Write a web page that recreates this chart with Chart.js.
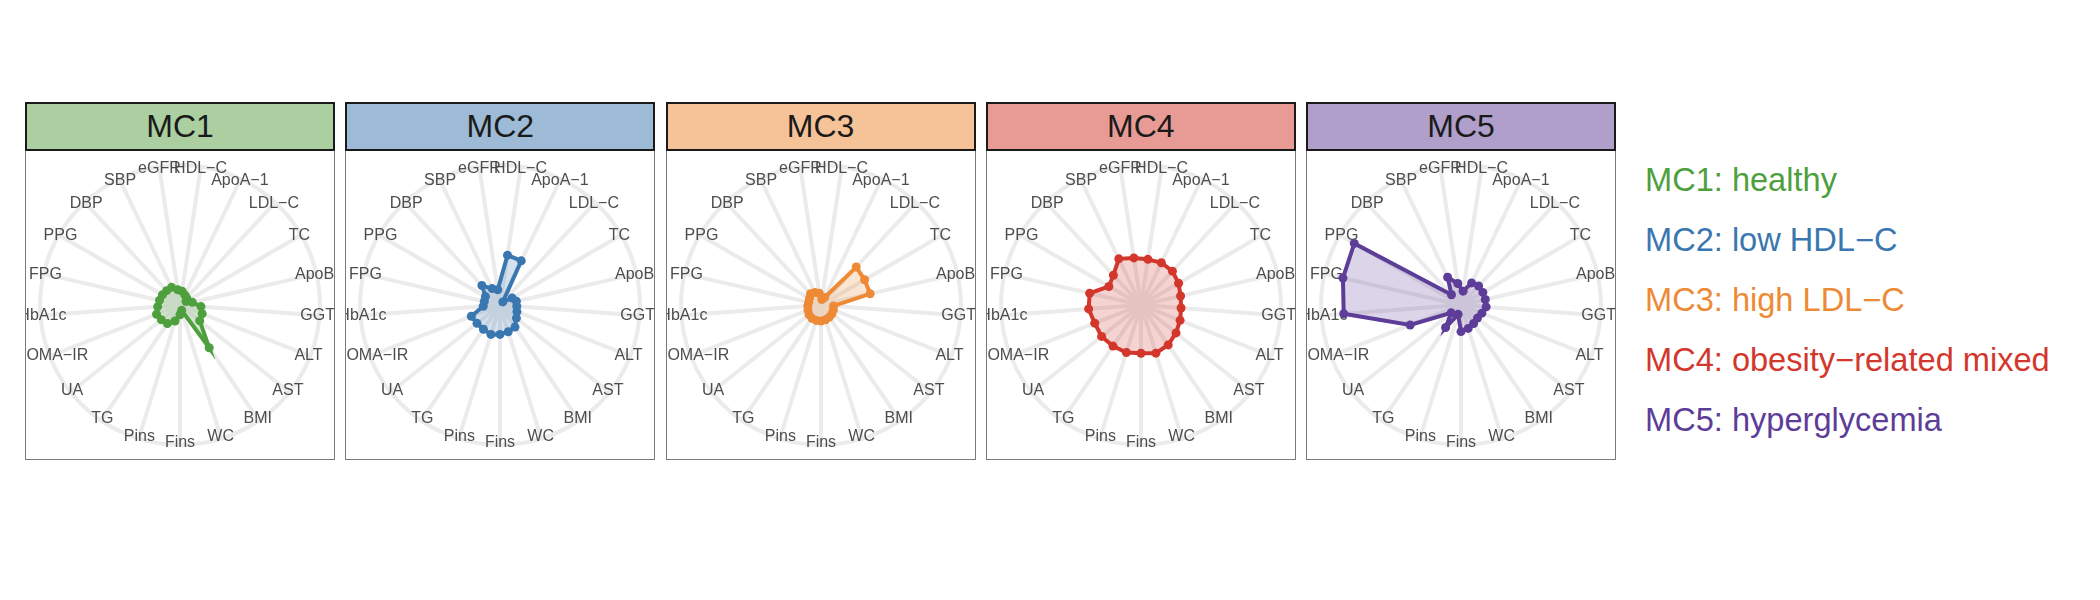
<!DOCTYPE html>
<html>
<head>
<meta charset="utf-8">
<title>Metabolic clusters radar</title>
<script src="https://cdn.jsdelivr.net/npm/chart.js@4.4.1/dist/chart.umd.min.js"></script>
<style>
    html, body { margin: 0; padding: 0; background: #fff; }
    body { width: 2100px; height: 600px; position: relative; overflow: hidden; font-family: "Liberation Sans", Arial, sans-serif; }
    .strip { position: absolute; top: 102px; height: 49px; width: 310px; box-sizing: border-box; border: 2px solid #1a1a1a; text-align: center; font-size: 32px; line-height: 45px; color: #1a1a1a; z-index: 2; }
    .panel { position: absolute; top: 150px; width: 310px; height: 310px; box-sizing: border-box; border: 1px solid #7a7a7a; overflow: hidden; }
    .panel canvas { position: absolute; left: -1px; top: -1px; }
    .legend { position: absolute; left: 1645px; font-size: 32.6px; line-height: 32.6px; white-space: nowrap; }
</style>
</head>
<body>
<div id="root"></div>
<script>
// Variables, clockwise from the top
const variables = ['HDL\u2212C', 'ApoA\u22121', 'LDL\u2212C', 'TC', 'ApoB', 'GGT', 'ALT', 'AST', 'BMI', 'WC',
    'Fins', 'Pins', 'TG', 'UA', 'HOMA\u2212IR', 'HbA1c', 'FPG', 'PPG', 'DBP', 'SBP', 'eGFR'];

// Cluster profiles (scaled 0..1)
const mc1 = [0.10, 0.08, 0.07, 0.05, 0.09, 0.15, 0.17, 0.18, 0.37, 0.04, 0.07, 0.12, 0.16, 0.17, 0.18, 0.16, 0.15, 0.145, 0.14, 0.14, 0.11];
const mc2 = [0.36, 0.35, 0.03, 0.10, 0.12, 0.12, 0.13, 0.15, 0.19, 0.20, 0.21, 0.22, 0.21, 0.21, 0.22, 0.12, 0.115, 0.12, 0.19, 0.13, 0.11];
const mc3 = [0.04, 0.06, 0.37, 0.36, 0.36, 0.09, 0.095, 0.10, 0.105, 0.11, 0.114, 0.115, 0.115, 0.11, 0.10, 0.095, 0.09, 0.095, 0.11, 0.10, 0.085];
const mc4 = [0.33, 0.335, 0.33, 0.31, 0.29, 0.287, 0.30, 0.32, 0.345, 0.36, 0.345, 0.355, 0.355, 0.36, 0.355, 0.375, 0.376, 0.265, 0.29, 0.366, 0.34];
const mc5 = [0.10, 0.175, 0.185, 0.18, 0.178, 0.18, 0.16, 0.15, 0.16, 0.175, 0.19, 0.07, 0.195, 0.09, 0.39, 0.84, 0.865, 0.88, 0.10, 0.22, 0.155];

const clusterNames = ['MC1', 'MC2', 'MC3', 'MC4', 'MC5'];
const clusterLabels = ['healthy', 'low HDL\u2212C', 'high LDL\u2212C', 'obesity\u2212related mixed', 'hyperglycemia'];
const clusterValues = [mc1, mc2, mc3, mc4, mc5];

// Styling
const lineColors = ['#4e9f3d', '#3a77b0', '#ee8a35', '#d3372c', '#5e3d98'];
const fillColors = ['rgba(78,159,61,0.22)', 'rgba(58,119,176,0.22)', 'rgba(238,138,53,0.22)', 'rgba(211,55,44,0.22)', 'rgba(94,61,152,0.22)'];
const stripColors = ['#abcfa0', '#9dbbd7', '#f6c398', '#e89b95', '#b09fca'];
const gridColor = '#ebebeb';

const root = document.getElementById('root');

// Axis names drawn around the rim, centred on a fixed radius
const rimLabels = {
    id: 'rimLabels',
    beforeDatasetsDraw(chart) {
        const scale = chart.scales.r;
        const ctx = chart.ctx;
        ctx.save();
        ctx.font = '16px "Liberation Sans", Arial, sans-serif';
        ctx.fillStyle = '#4d4d4d';
        ctx.textAlign = 'center';
        ctx.textBaseline = 'middle';
        chart.data.labels.forEach((label, i) => {
            const pos = scale.getPointPosition(i, scale.drawingArea - 2);
            ctx.fillText(label, pos.x, pos.y);
        });
        ctx.restore();
    }
};

function buildPanel(i) {
    const left = 25 + i * 320.25;

    const strip = document.createElement('div');
    strip.className = 'strip';
    strip.style.left = left + 'px';
    strip.style.background = stripColors[i];
    strip.textContent = clusterNames[i];
    root.appendChild(strip);

    const panel = document.createElement('div');
    panel.className = 'panel';
    panel.style.left = left + 'px';
    const canvas = document.createElement('canvas');
    canvas.width = 310;
    canvas.height = 310;
    panel.appendChild(canvas);
    root.appendChild(panel);

    new Chart(canvas.getContext('2d'), {
        type: 'radar',
        data: {
            labels: variables,
            datasets: [{
                data: clusterValues[i],
                borderColor: lineColors[i],
                backgroundColor: fillColors[i],
                pointBackgroundColor: lineColors[i],
                pointBorderWidth: 0,
                pointRadius: 4.5,
                borderWidth: 4,
                fill: true,
                tension: 0
            }]
        },
        options: {
            responsive: false,
            animation: false,
            devicePixelRatio: 1,
            layout: { padding: 15 },
            plugins: { legend: { display: false }, tooltip: { enabled: false } },
            scales: {
                r: {
                    min: 0,
                    max: 1,
                    startAngle: 360 / 42,
                    ticks: { display: false, stepSize: 1 },
                    grid: { color: gridColor, lineWidth: 4, circular: true },
                    angleLines: { color: gridColor, lineWidth: 4 },
                    pointLabels: { display: false }
                }
            }
        },
        plugins: [rimLabels]
    });
}

function buildLegend() {
    clusterNames.forEach((name, i) => {
        const item = document.createElement('div');
        item.className = 'legend';
        item.style.top = (164 + i * 60) + 'px';
        item.style.color = lineColors[i];
        item.textContent = name + ': ' + clusterLabels[i];
        root.appendChild(item);
    });
}

clusterNames.forEach((_, i) => buildPanel(i));
buildLegend();
</script>
</body>
</html>
